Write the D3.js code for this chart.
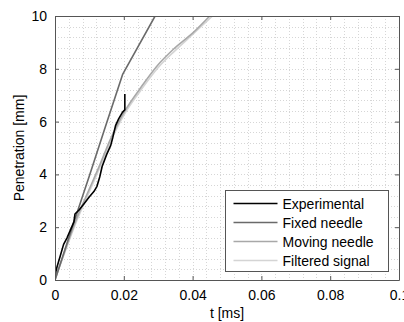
<!DOCTYPE html>
<html>
<head>
<meta charset="utf-8">
<script src="https://cdn.jsdelivr.net/npm/d3@7"></script>
<style>
  body { margin: 0; background: #fff; }
  text { font-family: 'Liberation Sans', Arial, Helvetica, sans-serif; }
</style>
</head>
<body>
<script>
// series: [t (ms), penetration (mm)]
const experimental = [
  [0, 0.2], [0.0006, 0.5], [0.0015, 0.9], [0.0025, 1.35], [0.0035, 1.6],
  [0.0045, 1.9], [0.0055, 2.2], [0.0058, 2.5], [0.007, 2.65], [0.0085, 2.9],
  [0.01, 3.15], [0.0113, 3.35], [0.0122, 3.55], [0.013, 3.9], [0.0137, 4.3],
  [0.015, 4.75], [0.0162, 5.1], [0.0168, 5.4], [0.0176, 5.85], [0.0185, 6.1],
  [0.0196, 6.35], [0.0203, 6.45], [0.0203, 7.05]
];
const fixedNeedle = [
  [0, 0], [0.005, 2.0], [0.01, 3.95], [0.015, 5.95], [0.0197, 7.8], [0.0291, 10]
];
const movingNeedle = [
  [0, 0], [0.003, 1.15], [0.0065, 2.4], [0.01, 3.45], [0.013, 4.35], [0.016, 5.3],
  [0.0186, 6.0], [0.0203, 6.4], [0.025, 7.3], [0.0296, 8.1], [0.0345, 8.75],
  [0.04, 9.35], [0.045, 10]
];
const filteredSignal = [
  [0, 0.05], [0.003, 1.1], [0.0065, 2.3], [0.01, 3.35], [0.013, 4.25], [0.016, 5.2],
  [0.0186, 5.9], [0.0205, 6.35], [0.025, 7.2], [0.03, 8.05], [0.035, 8.7],
  [0.04, 9.3], [0.0458, 10]
];

const seriesNames = ['Experimental', 'Fixed needle', 'Moving needle', 'Filtered signal'];
const seriesColors = ['#000000', '#6a6a6a', '#a8a8a8', '#d4d4d4'];
const xTicks = [0, 0.02, 0.04, 0.06, 0.08, 0.1];
const yTicks = [0, 2, 4, 6, 8, 10];

const width = 404;
const height = 322;
const margin = { top: 16, right: 5, bottom: 42, left: 55 };
const w = width - margin.left - margin.right;
const h = height - margin.top - margin.bottom;

const svg = d3.select('body')
  .append('svg')
  .attr('width', width)
  .attr('height', height);

const g = svg.append('g')
  .attr('transform', `translate(${margin.left},${margin.top})`);

const x = d3.scaleLinear().domain([0, 0.1]).range([0, w]);
const y = d3.scaleLinear().domain([0, 10]).range([h, 0]);

// Grid (major + minor, all dotted)
const xGrid = d3.range(0, 0.1 + 1e-9, 0.004);
const yGrid = d3.range(0, 10 + 1e-9, 0.4);

g.append('g')
  .selectAll('line')
  .data(xGrid)
  .enter()
  .append('line')
  .attr('x1', d => Math.round(x(d)) + 0.5)
  .attr('x2', d => Math.round(x(d)) + 0.5)
  .attr('y1', 0)
  .attr('y2', h)
  .attr('stroke', '#d6d6d6')
  .attr('stroke-dasharray', '1,2');

g.append('g')
  .selectAll('line')
  .data(yGrid)
  .enter()
  .append('line')
  .attr('y1', d => Math.round(y(d)) + 0.5)
  .attr('y2', d => Math.round(y(d)) + 0.5)
  .attr('x1', 0)
  .attr('x2', w)
  .attr('stroke', '#d6d6d6')
  .attr('stroke-dasharray', '1,2');

// Lines: sharp for measured / piecewise, smooth for the model curves
const sharpLine = d3.line()
  .x(d => x(d[0]))
  .y(d => y(d[1]));

const smoothLine = d3.line()
  .x(d => x(d[0]))
  .y(d => y(d[1]))
  .curve(d3.curveMonotoneX);

const seriesData = [experimental, fixedNeedle, movingNeedle, filteredSignal];
const seriesLine = [sharpLine, sharpLine, smoothLine, smoothLine];
const drawOrder = [3, 2, 1, 0];

g.append('defs').append('clipPath')
  .attr('id', 'clip')
  .append('rect')
  .attr('width', w)
  .attr('height', h);

g.append('g')
  .attr('clip-path', 'url(#clip)')
  .selectAll('path')
  .data(drawOrder)
  .enter()
  .append('path')
  .attr('d', i => seriesLine[i](seriesData[i]))
  .attr('fill', 'none')
  .attr('stroke', i => seriesColors[i])
  .attr('stroke-width', 1.6)
  .attr('stroke-linejoin', 'round');

// Axes (box with inward ticks on all sides)
const axisColor = '#555';

const xAxis = g.append('g')
  .attr('transform', `translate(0,${h})`)
  .call(d3.axisBottom(x).tickValues(xTicks).tickSizeInner(-4).tickSizeOuter(0)
    .tickPadding(10).tickFormat(d => d === 0 ? '0' : d3.format('.2~f')(d)));

const xAxisTop = g.append('g')
  .call(d3.axisTop(x).tickValues(xTicks).tickSizeInner(-4).tickSizeOuter(0).tickFormat(''));

const yAxis = g.append('g')
  .call(d3.axisLeft(y).tickValues(yTicks).tickSizeInner(-4).tickSizeOuter(0).tickPadding(8));

const yAxisRight = g.append('g')
  .attr('transform', `translate(${w},0)`)
  .call(d3.axisRight(y).tickValues(yTicks).tickSizeInner(-4).tickSizeOuter(0).tickFormat(''));

[xAxis, xAxisTop, yAxis, yAxisRight].forEach(a => {
  a.select('.domain').attr('stroke', axisColor);
  a.selectAll('.tick line').attr('stroke', axisColor);
  a.selectAll('text')
    .attr('fill', '#000')
    .style('font-size', '14px')
    .style('font-family', "'Liberation Sans', Arial, sans-serif");
});

// Axis labels
svg.append('text')
  .attr('x', margin.left + w / 2)
  .attr('y', 318)
  .attr('text-anchor', 'middle')
  .style('font-size', '14px')
  .text('t [ms]');

svg.append('text')
  .attr('transform', `translate(24,${margin.top + h / 2}) rotate(-90)`)
  .attr('text-anchor', 'middle')
  .style('font-size', '14px')
  .text('Penetration [mm]');

// Legend
const legend = svg.append('g')
  .attr('transform', 'translate(225.5,190.5)');

legend.append('rect')
  .attr('width', 163)
  .attr('height', 81)
  .attr('fill', '#fff')
  .attr('stroke', axisColor);

const legendItems = legend.selectAll('g')
  .data(seriesNames)
  .enter()
  .append('g')
  .attr('transform', (d, i) => `translate(0,${13 + i * 19})`);

legendItems.append('line')
  .attr('x1', 8)
  .attr('x2', 52)
  .attr('stroke', (d, i) => seriesColors[i])
  .attr('stroke-width', 1.6);

legendItems.append('text')
  .attr('x', 57)
  .attr('y', 5)
  .style('font-size', '14px')
  .text(d => d);
</script>
</body>
</html>
